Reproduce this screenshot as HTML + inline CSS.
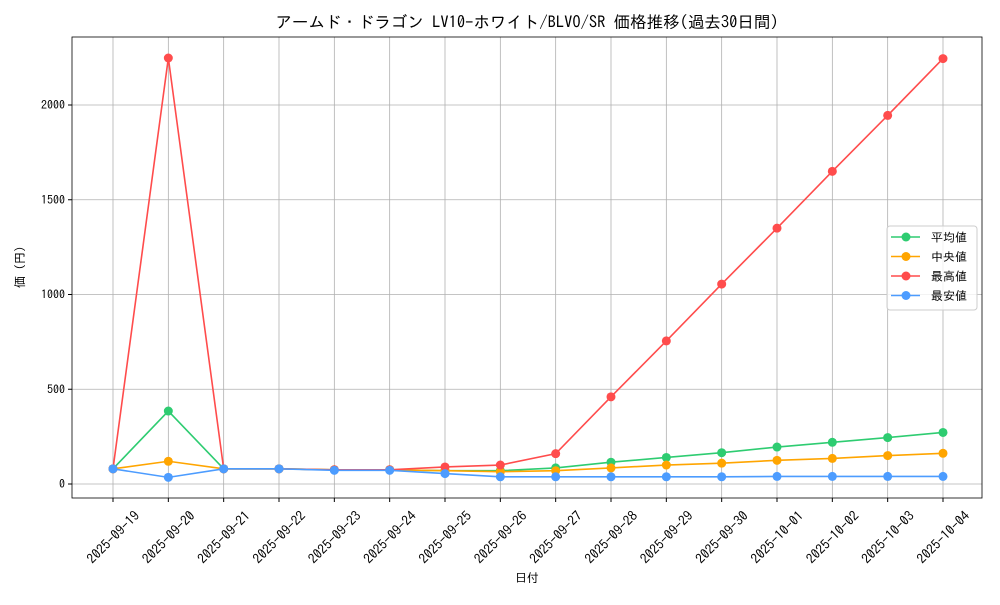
<!DOCTYPE html>
<html><head><meta charset="utf-8"><style>
html,body{margin:0;padding:0;background:#fff;}
svg text{font-family:"IPAGothic","Liberation Sans","Noto Sans CJK JP",sans-serif;fill:#000;}
</style></head><body>
<svg id="s" width="1000" height="600" xmlns="http://www.w3.org/2000/svg"></svg>
<script>
const s=document.getElementById('s');
let h='';
const L=72,R=982,T=37,B=498;
const X0=113,DX=830/15;
const Y=v=>484-v*0.1895;
const X=i=>X0+i*DX;
const dates=['2025-09-19','2025-09-20','2025-09-21','2025-09-22','2025-09-23','2025-09-24','2025-09-25','2025-09-26','2025-09-27','2025-09-28','2025-09-29','2025-09-30','2025-10-01','2025-10-02','2025-10-03','2025-10-04'];
for(let i=0;i<16;i++){h+=`<line x1="${X(i)}" y1="${T}" x2="${X(i)}" y2="${B}" stroke="#b0b0b0" stroke-width="0.8"/>`;}
for(const v of [0,500,1000,1500,2000]){h+=`<line x1="${L}" y1="${Y(v)}" x2="${R}" y2="${Y(v)}" stroke="#b0b0b0" stroke-width="0.8"/>`;
h+=`<line x1="${L-4}" y1="${Y(v)}" x2="${L}" y2="${Y(v)}" stroke="#000"/>`;
h+=`<text x="${L-7}" y="${Y(v)+4}" font-size="12" text-anchor="end">${v}</text>`;}
for(let i=0;i<16;i++){h+=`<line x1="${X(i)}" y1="${B}" x2="${X(i)}" y2="${B+4}" stroke="#000"/>`;
h+=`<text transform="translate(${X(i)},${537}) rotate(-45)" font-size="13.5" text-anchor="middle" dominant-baseline="central">${dates[i]}</text>`;}
const series=[
['#2ecc71',[80,385,80,80,75,75,70,70,85,115,140,165,195,220,245,272]],
['#ffa500',[80,120,80,80,75,75,70,65,70,85,100,110,125,135,150,162]],
['#ff4c4c',[80,2248,80,80,75,75,90,100,160,460,755,1055,1350,1650,1945,2245]],
['#4c9cff',[80,35,80,80,72,72,55,38,38,38,38,38,40,40,40,40]]];
for(const [c,d] of series){
h+=`<polyline fill="none" stroke="${c}" stroke-width="1.6" points="${d.map((v,i)=>X(i)+','+Y(v)).join(' ')}"/>`;
for(let i=0;i<d.length;i++)h+=`<circle cx="${X(i)}" cy="${Y(d[i])}" r="4.5" fill="${c}"/>`;}
h+=`<rect x="${L}" y="${T}" width="${R-L}" height="${B-T}" fill="none" stroke="#000" stroke-width="0.8"/>`;
h+=`<text x="527" y="28" font-size="16.5" text-anchor="middle">アームド・ドラゴン LV10-ホワイト/BLVO/SR 価格推移(過去30日間)</text>`;
h+=`<text x="527" y="582" font-size="12" text-anchor="middle">日付</text>`;
h+=`<text transform="translate(24,267) rotate(-90)" font-size="12" text-anchor="middle">価 (円)</text>`;
h+=`<rect x="887" y="226" width="90" height="84" rx="3" fill="#fff" fill-opacity="0.8" stroke="#ccc"/>`;
const names=['平均値','中央値','最高値','最安値'];
for(let i=0;i<4;i++){const y=237+i*19.5;const c=series[i][0];
h+=`<line x1="891" y1="${y}" x2="920" y2="${y}" stroke="${c}" stroke-width="1.6"/><circle cx="906" cy="${y}" r="4.5" fill="${c}"/>`;
h+=`<text x="931" y="${y+4.5}" font-size="12">${names[i]}</text>`;}
s.innerHTML=h;
</script>
</body></html>
